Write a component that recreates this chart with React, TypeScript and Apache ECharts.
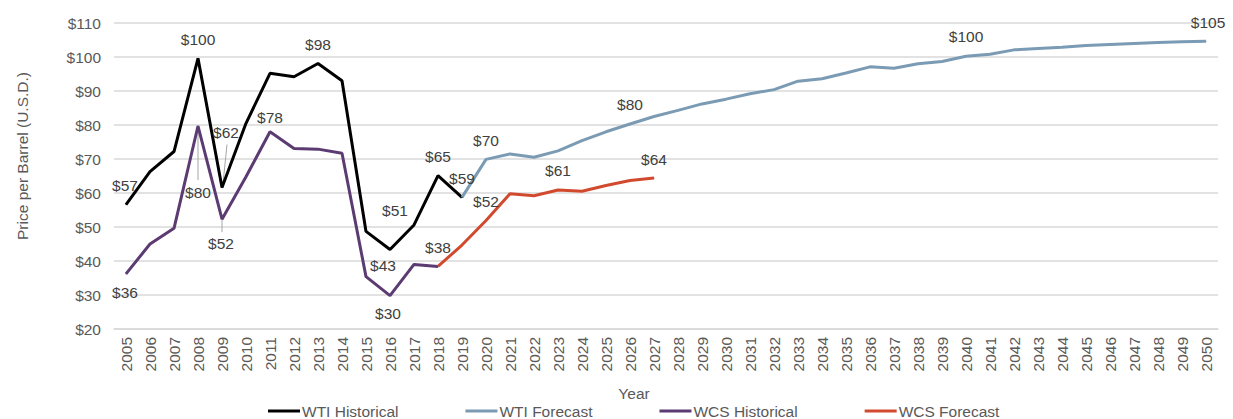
import React, { useEffect, useRef } from "react";
import * as echarts from "echarts";

const years: string[] = [
  "2005", "2006", "2007", "2008", "2009", "2010", "2011", "2012", "2013", "2014",
  "2015", "2016", "2017", "2018", "2019", "2020", "2021", "2022", "2023", "2024",
  "2025", "2026", "2027", "2028", "2029", "2030", "2031", "2032", "2033", "2034",
  "2035", "2036", "2037", "2038", "2039", "2040", "2041", "2042", "2043", "2044",
  "2045", "2046", "2047", "2048", "2049", "2050",
];

// WTI Historical, 2005-2019
const wtiHistorical: number[] = [
  56.6, 66.3, 72.2, 99.6, 61.6, 80.5, 95.2, 94.2, 98.1, 93.0, 48.7, 43.4, 50.6, 65.1, 58.7,
];
// WTI Forecast, 2019-2050
const wtiForecast: number[] = [
  58.7, 69.9, 71.5, 70.5, 72.4, 75.4, 78.0, 80.3, 82.5, 84.3, 86.2, 87.6, 89.2, 90.4, 92.9, 93.6,
  95.3, 97.1, 96.7, 98.0, 98.7, 100.2, 100.8, 102.1, 102.5, 102.9, 103.4, 103.7, 104.0, 104.3,
  104.5, 104.6,
];
// WCS Historical, 2005-2018
const wcsHistorical: number[] = [
  36.2, 45.0, 49.6, 79.7, 52.3, 64.8, 78.0, 73.1, 72.9, 71.7, 35.4, 29.8, 39.0, 38.4,
];
// WCS Forecast, 2018-2027
const wcsForecast: number[] = [38.4, 44.7, 51.9, 59.8, 59.2, 60.9, 60.5, 62.2, 63.7, 64.4];

const yTicks = { min: 20, max: 110, interval: 10 };

// label placement: year, offset of label centre from the point (px)
type LabelSpec = { year: string; dx: number; dy: number };
const wtiHistLabels: LabelSpec[] = [
  { year: "2005", dx: -1, dy: -19 },
  { year: "2008", dx: 0, dy: -19 },
  { year: "2009", dx: 4, dy: -55 },
  { year: "2013", dx: 0, dy: -19 },
  { year: "2016", dx: -7, dy: 16 },
  { year: "2017", dx: -19, dy: -14 },
  { year: "2018", dx: 0, dy: -19 },
  { year: "2019", dx: 0, dy: -19 },
];
const wtiFcLabels: LabelSpec[] = [
  { year: "2020", dx: 0, dy: -19 },
  { year: "2026", dx: 0, dy: -19 },
  { year: "2040", dx: 0, dy: -20 },
  { year: "2050", dx: 2, dy: -19 },
];
const wcsHistLabels: LabelSpec[] = [
  { year: "2005", dx: -1, dy: 19 },
  { year: "2008", dx: 0, dy: 66 },
  { year: "2009", dx: -1, dy: 24 },
  { year: "2011", dx: 0, dy: -14 },
  { year: "2016", dx: -2, dy: 18 },
  { year: "2018", dx: 0, dy: -19 },
];
const wcsFcLabels: LabelSpec[] = [
  { year: "2020", dx: 0, dy: -19 },
  { year: "2023", dx: 0, dy: -19 },
  { year: "2027", dx: 0, dy: -19 },
];

// leader lines: series index, year, from/to offsets relative to point
type Leader = { s: number; year: string; x1: number; y1: number; x2: number; y2: number };
const leaders: Leader[] = [
  { s: 0, year: "2009", x1: 1, y1: -4, x2: 5, y2: -43 },
  { s: 2, year: "2008", x1: 0, y1: 2, x2: 0, y2: 54 },
  { s: 2, year: "2009", x1: 0, y1: 1, x2: 0, y2: 13 },
];

const FONT = "'Liberation Sans', Arial, Helvetica, sans-serif";
const LABEL_COLOR = "#404040";
const AXIS_COLOR = "#595959";

function buildData(values: number[], startYear: string, labels: LabelSpec[]) {
  const start = years.indexOf(startYear);
  return years.map((y, i) => {
    const k = i - start;
    if (k < 0 || k >= values.length) return null;
    const v = values[k];
    const spec = labels.find((l) => l.year === y);
    if (!spec) return v;
    return {
      value: v,
      symbol: "circle",
      symbolSize: 1,
      label: {
        show: true,
        position: "inside",
        offset: [spec.dx, spec.dy],
        formatter: "$" + Math.round(v),
        color: LABEL_COLOR,
        fontSize: 15.5,
        fontFamily: FONT,
      },
    };
  });
}

const seriesDefs = [
  { name: "WTI Historical", color: "#000000", values: wtiHistorical, start: "2005", labels: wtiHistLabels },
  { name: "WTI Forecast", color: "#7A9BB3", values: wtiForecast, start: "2019", labels: wtiFcLabels },
  { name: "WCS Historical", color: "#5B3B72", values: wcsHistorical, start: "2005", labels: wcsHistLabels },
  { name: "WCS Forecast", color: "#D24A2E", values: wcsForecast, start: "2018", labels: wcsFcLabels },
];

export default function App() {
  const ref = useRef<HTMLDivElement>(null);

  useEffect(() => {
    document.body.style.margin = "0";
    if (!ref.current) return;
    const chart = echarts.init(ref.current, undefined, { renderer: "svg" });

    const baseGraphics: any[] = [
      {
        id: "yname",
        type: "text",
        x: 22,
        y: 156,
        rotation: Math.PI / 2,
        style: {
          text: "Price per Barrel (U.S.D.)",
          fill: AXIS_COLOR,
          font: `15.5px ${FONT}`,
          align: "center",
          verticalAlign: "middle",
        },
      },
      {
        id: "xname",
        type: "text",
        x: 634,
        y: 393,
        style: {
          text: "Year",
          fill: AXIS_COLOR,
          font: `15.5px ${FONT}`,
          align: "center",
          verticalAlign: "middle",
        },
      },
    ];

    chart.setOption({
      animation: false,
      textStyle: { fontFamily: FONT },
      grid: { left: 114, right: 15, top: 23, bottom: 90, containLabel: false },
      legend: {
        left: 268,
        top: 403,
        padding: 0,
        icon: "rect",
        itemWidth: 32,
        itemHeight: 3,
        itemGap: 67,
        textStyle: { fontSize: 15.5, color: AXIS_COLOR, fontFamily: FONT, padding: [0, 0, 0, -3] },
        data: seriesDefs.map((s) => s.name),
      },
      xAxis: {
        type: "category",
        data: years,
        boundaryGap: true,
        axisLine: { show: true, lineStyle: { color: "#D9D9D9", width: 1.5 } },
        axisTick: { show: false },
        axisLabel: {
          interval: 0,
          rotate: 90,
          margin: 8,
          color: AXIS_COLOR,
          fontSize: 15.5,
          fontFamily: FONT,
        },
      },
      yAxis: {
        type: "value",
        min: yTicks.min,
        max: yTicks.max,
        interval: yTicks.interval,
        axisLine: { show: false },
        axisTick: { show: false },
        splitLine: { lineStyle: { color: "#D9D9D9", width: 1.5 } },
        axisLabel: {
          margin: 13,
          color: AXIS_COLOR,
          fontSize: 15.5,
          fontFamily: FONT,
          formatter: (v: number) => "$" + v,
        },
      },
      graphic: baseGraphics,
      series: seriesDefs.map((s) => ({
        name: s.name,
        type: "line",
        data: buildData(s.values, s.start, s.labels),
        symbol: "none",
        showSymbol: true,
        showAllSymbol: true,
        connectNulls: false,
        color: s.color,
        lineStyle: { color: s.color, width: 3 },
        itemStyle: { color: s.color },
        label: { show: false },
        emphasis: { disabled: true },
        z: 2,
      })),
    });

    const leaderGraphics = leaders.map((l, i) => {
      const def = seriesDefs[l.s];
      const k = years.indexOf(l.year) - years.indexOf(def.start);
      const p = chart.convertToPixel({ gridIndex: 0 }, [l.year, def.values[k]]) as number[];
      return {
        id: "leader" + i,
        type: "line",
        shape: { x1: p[0] + l.x1, y1: p[1] + l.y1, x2: p[0] + l.x2, y2: p[1] + l.y2 },
        style: { stroke: "#A6A6A6", lineWidth: 1 },
        z: 1,
      };
    });
    chart.setOption({ graphic: [...baseGraphics, ...leaderGraphics] });

    return () => chart.dispose();
  }, []);

  return <div ref={ref} style={{ width: 1233, height: 419 }} />;
}
